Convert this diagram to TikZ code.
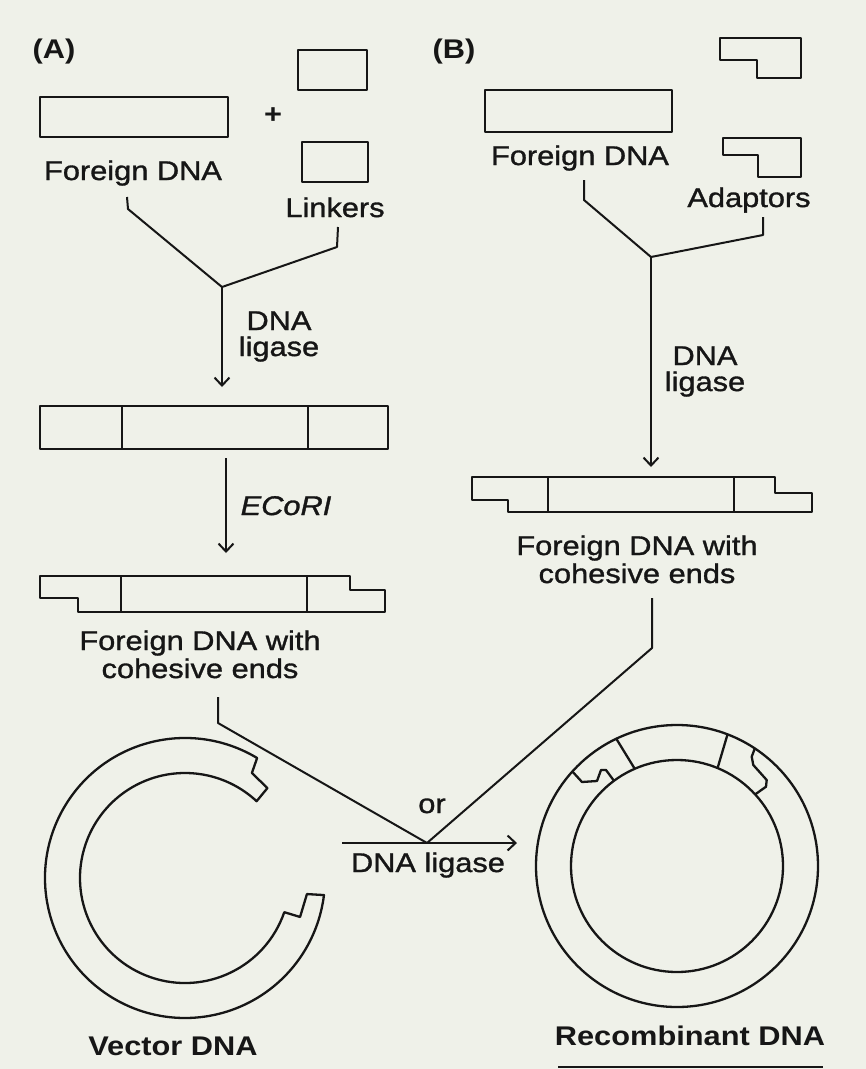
\documentclass[tikz,border=0pt]{standalone}
\usepackage{fontspec}
\setmainfont{Liberation Sans}[FakeStretch=1.14,
  UprightFeatures={FakeBold=1.2}, ItalicFeatures={FakeBold=1.2}]
\usetikzlibrary{arrows.meta}
\definecolor{paper}{HTML}{EFF1E9}
\definecolor{ink}{HTML}{161616}

\begin{document}
\begin{tikzpicture}[x=1pt,y=1pt,
  lbl/.style={inner sep=0pt, anchor=base, text=ink, font=\fontsize{27}{29}\selectfont},
  boldlbl/.style={lbl, font=\fontsize{27}{29}\selectfont\bfseries},
  strand/.style={draw=ink, line width=2.3pt, line join=round},
  thinstrand/.style={draw=ink, line width=1.9pt, line join=round},
  link/.style={draw=ink, line width=2pt, line join=round},
  flow/.style={link, -{Straight Barb[length=8pt,width=15pt,line width=2pt]}},
]
\fill[paper] (0,0) rectangle (866,-1069);
\useasboundingbox (0,0) rectangle (866,-1069);

% ---------------- Panel A: linkers ----------------
\node[boldlbl] (tagA) at (54,-58) {(A)};
\draw[strand] (40,-97) rectangle (228,-137);
\node[boldlbl, anchor=center] (plus) at (273,-116) {+};
\draw[thinstrand] (298,-50) rectangle (367,-90);
\draw[thinstrand] (302,-142) rectangle (368,-182);
\node[lbl] (fdA) at (133,-180) {Foreign DNA};
\node[lbl] (lnk) at (335,-217) {Linkers};

\coordinate (sA1) at (127,-197);
\coordinate (sA2) at (338,-227);
\coordinate (jA) at (222,-287);
\coordinate (tipA) at (222,-387);
\draw[link] (sA1) -- (128,-209) -- (jA);
\draw[link] (sA2) -- (337,-247) -- (jA);
\draw[flow] (jA) -- (tipA);
\node[lbl] (ligA1) at (279,-330) {DNA};
\node[lbl] (ligA2) at (279,-356) {ligase};

% blunt-ended insert with linkers
\draw[strand] (40,-406) rectangle (388,-449);
\draw[strand] (122,-406) -- (122,-449);
\draw[strand] (308,-406) -- (308,-449);

\coordinate (eA1) at (226,-458);
\coordinate (eA2) at (226,-553);
\draw[flow] (eA1) -- (eA2);
\node[lbl, font=\fontsize{27}{29}\selectfont\itshape] (eco) at (286,-515) {ECoRI};

% insert with cohesive ends
\draw[strand] (40,-576) -- (350,-576) -- (350,-590) -- (385,-590) -- (385,-612)
  -- (78,-612) -- (78,-598) -- (40,-598) -- cycle;
\draw[strand] (121,-576) -- (121,-612);
\draw[strand] (307,-576) -- (307,-612);
\node[lbl] (ceA1) at (200,-650) {Foreign DNA with};
\node[lbl] (ceA2) at (200,-678) {cohesive ends};

% ---------------- Panel B: adaptors ----------------
\node[boldlbl] (tagB) at (454,-58) {(B)};
\draw[strand] (485,-90) rectangle (672,-132);
\draw[thinstrand] (720,-38) -- (801,-38) -- (801,-78) -- (757,-78) -- (757,-60) -- (720,-60) -- cycle;
\draw[thinstrand] (723,-138) -- (801,-138) -- (801,-177) -- (758,-177) -- (758,-155) -- (723,-155) -- cycle;
\node[lbl] (fdB) at (580,-165) {Foreign DNA};
\node[lbl] (adp) at (749,-207) {Adaptors};

\coordinate (sB1) at (584,-180);
\coordinate (sB2) at (763,-217);
\coordinate (jB) at (651,-257);
\coordinate (tipB) at (651,-467);
\draw[link] (sB1) -- (584,-200) -- (jB);
\draw[link] (sB2) -- (763,-235) -- (jB);
\draw[flow] (jB) -- (tipB);
\node[lbl] (ligB1) at (705,-365) {DNA};
\node[lbl] (ligB2) at (705,-391) {ligase};

\draw[strand] (472,-477) -- (775,-477) -- (775,-493) -- (812,-493) -- (812,-512)
  -- (508,-512) -- (508,-500) -- (472,-500) -- cycle;
\draw[strand] (548,-477) -- (548,-512);
\draw[strand] (734,-477) -- (734,-512);
\node[lbl] (ceB1) at (637,-555) {Foreign DNA with};
\node[lbl] (ceB2) at (637,-583) {cohesive ends};

% ---------------- joining into the vector ----------------
\coordinate (sA3) at (218,-697);
\coordinate (sB3) at (652,-598);
\coordinate (jC) at (427,-843);
\coordinate (hL) at (342,-843);
\coordinate (hR) at (517,-843);
\draw[link] (sA3) -- (218,-723) -- (jC);
\draw[link] (sB3) -- (652,-648) -- (jC);
\draw[flow] (hL) -- (hR);
\node[lbl] (orl) at (432,-813) {or};
\node[lbl] (ligC) at (428,-872) {DNA ligase};

% opened vector with cohesive ends
\begin{scope}[shift={(185,-878)}]
  \draw[strand] (59:140) arc[start angle=59, end angle=353, radius=140]
    -- (352.5:123) -- (341.3:121.5) -- (341:105)
    arc[start angle=341, end angle=47, radius=105]
    -- (47.5:122) -- (57.5:124.5) -- cycle;
\end{scope}
\node[boldlbl] (vec) at (173,-1055) {Vector DNA};

% recombinant circle
\begin{scope}[shift={(677,-866)}]
  \draw[strand] (0,0) circle[radius=141];
  \draw[strand] (0,0) circle[radius=106];
  \draw[strand] (115.5:141) -- (113.5:106);
  \draw[strand] (69:141) -- (67.5:106);
  \draw[strand] (137.9:141) -- (-95,84) -- (-80,85) -- (-76,96) -- (-71,96) -- (126.5:106);
  \draw[strand] (56.5:141) -- (74.7,109.3) -- (76.3,101) -- (89.7,86) -- (89,79.3) -- (42.5:106);
\end{scope}
\node[boldlbl] (rec) at (690,-1045) {Recombinant DNA};
\draw[ink, line width=1.6pt] (558,-1067) -- (823,-1067);

\end{tikzpicture}
\end{document}
